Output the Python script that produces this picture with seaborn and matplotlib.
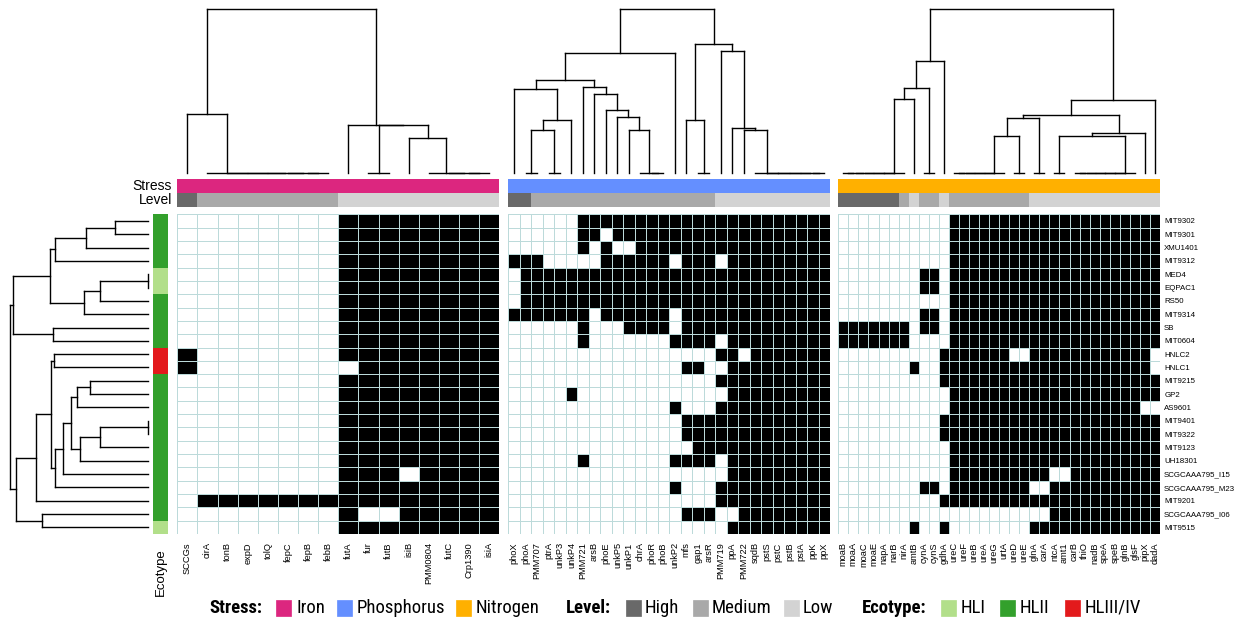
import numpy as np
import matplotlib
matplotlib.use("Agg")
import matplotlib.pyplot as plt
from matplotlib.colors import ListedColormap
from matplotlib.patches import Rectangle
import seaborn as sns

sns.set_theme(style="white")
plt.rcParams["font.family"] = ["Liberation Sans", "DejaVu Sans"]
for key in ("text.color", "axes.labelcolor", "xtick.color", "ytick.color"):
    plt.rcParams[key] = "black"

# ---------------------------------------------------------------- data
STRAINS = ["MIT9302", "MIT9301", "XMU1401", "MIT9312", "MED4", "EQPAC1", "RS50",
           "MIT9314", "SB", "MIT0604", "HNLC2", "HNLC1", "MIT9215", "GP2", "AS9601",
           "MIT9401", "MIT9322", "MIT9123", "UH18301", "SCGCAAA795_I15",
           "SCGCAAA795_M23", "MIT9201", "SCGCAAA795_I06", "MIT9515"]
ECOTYPE = ["HLII", "HLII", "HLII", "HLII", "HLI", "HLI", "HLII", "HLII", "HLII", "HLII",
           "HLIII/IV", "HLIII/IV", "HLII", "HLII", "HLII", "HLII", "HLII", "HLII", "HLII",
           "HLII", "HLII", "HLII", "HLII", "HLI"]

IRON_GENES = ["SCCGs", "cirA", "tonB", "expD", "tolQ", "fepC", "fepB", "febB", "futA",
              "fur", "futB", "isiB", "PMM0804", "futC", "Crp1390", "isiA"]
PHOS_GENES = ["phoX", "phoA", "PMM707", "ptrA", "unkP3", "unkP4", "PMM721", "arsB", "phoE",
              "unkP5", "unkP1", "chrA", "phoR", "phoB", "unkP2", "mfs", "gap1", "arsR",
              "PMM719", "ppA", "PMM722", "sqdB", "pstS", "pstC", "pstB", "pstA", "ppK", "ppX"]
NITRO_GENES = ["moaB", "moaA", "moaC", "moaE", "napA", "narB", "nirA", "amtB", "cynA", "cynS",
               "gdhA", "ureC", "ureF", "ureB", "ureA", "ureG", "urtA", "ureD", "ureE", "glnA",
               "carA", "ntcA", "amt1", "carB", "thiO", "nadB", "speA", "speB", "glnB", "glsF",
               "pipX", "dadA"]

# stress level per gene: H = high, M = medium, L = low
IRON_LEVEL = "HMMMMMMMLLLLLLLL"
PHOS_LEVEL = "HHMMMMMMMMMMMMMMMMLLLLLLLLLL"
NITRO_LEVEL = "HHHHHHMLMMLMMMMMMMMLLLLLLLLLLLLL"

# gene presence (1) / absence (0), one string per strain, genes in groups of four
IRON_PA = [
    "0000 0000 1111 1111", "0000 0000 1111 1111", "0000 0000 1111 1111",
    "0000 0000 1111 1111", "0000 0000 1111 1111", "0000 0000 1111 1111",
    "0000 0000 1111 1111", "0000 0000 1111 1111", "0000 0000 1111 1111",
    "0000 0000 1111 1111", "1000 0000 1111 1111", "1000 0000 0111 1111",
    "0000 0000 1111 1111", "0000 0000 1111 1111", "0000 0000 1111 1111",
    "0000 0000 1111 1111", "0000 0000 1111 1111", "0000 0000 1111 1111",
    "0000 0000 1111 1111", "0000 0000 1110 1111", "0000 0000 1111 1111",
    "0111 1111 1111 1111", "0000 0000 1001 1111", "0000 0000 1111 1111",
]
PHOS_PA = [
    "0000 0011 1111 1111 1111 1111 1111",
    "0000 0011 0111 1111 1111 1111 1111",
    "0000 0010 1001 1111 1111 1111 1111",
    "1110 0000 1111 1101 1101 1111 1111",
    "0111 1111 1111 1111 1111 1111 1111",
    "0111 1111 1111 1111 1111 1111 1111",
    "0111 1111 1111 1111 1111 1111 1111",
    "1111 1110 1111 1101 1111 1111 1111",
    "0000 0010 0011 1101 1111 1111 1111",
    "0000 0010 0000 0011 1101 1111 1111",
    "0000 0000 0000 0000 0011 0111 1111",
    "0000 0000 0000 0001 1001 1111 1111",
    "0000 0000 0000 0000 0011 1111 1111",
    "0000 0100 0000 0000 0001 1111 1111",
    "0000 0000 0000 0010 0011 1111 1111",
    "0000 0000 0000 0001 1111 1111 1111",
    "0000 0000 0000 0001 1111 1111 1111",
    "0000 0000 0000 0000 1111 1111 1111",
    "0000 0010 0000 0011 1101 1111 1111",
    "0000 0000 0000 0000 0001 1111 1111",
    "0000 0000 0000 0010 0011 1111 1111",
    "0000 0000 0000 0000 0011 1111 1111",
    "0000 0000 0000 0001 1100 1111 1111",
    "0000 0000 0000 0000 0001 1111 1111",
]
NITRO_PA = [
    "0000 0000 0001 1111 1111 1111 1111 1111",
    "0000 0000 0001 1111 1111 1111 1111 1111",
    "0000 0000 0001 1111 1111 1111 1111 1111",
    "0000 0000 0001 1111 1111 1111 1111 1111",
    "0000 0000 1101 1111 1111 1111 1111 1111",
    "0000 0000 1101 1111 1111 1111 1111 1111",
    "0000 0000 0001 1111 1111 1111 1111 1111",
    "0000 0000 1101 1111 1111 1111 1111 1111",
    "1111 1110 1101 1111 1111 1111 1111 1111",
    "1111 1110 0001 1111 1111 1111 1111 1111",
    "0000 0000 0011 1111 1001 1111 1111 1110",
    "0000 0001 0011 1111 1111 1111 1111 1110",
    "0000 0000 0011 1111 1111 1111 1111 1111",
    "0000 0000 0001 1111 1111 1111 1111 1111",
    "0000 0000 0001 1111 1111 1111 1111 1100",
    "0000 0000 0011 1111 1111 1111 1111 1111",
    "0000 0000 0011 1111 1111 1111 1111 1111",
    "0000 0000 0001 1111 1111 1111 1111 1111",
    "0000 0000 0001 1111 1111 1111 1111 1111",
    "0000 0000 0001 1111 1111 1001 1111 1111",
    "0000 0000 1101 1111 1110 0111 1111 1111",
    "0000 0000 0011 1111 1111 1111 1111 1111",
    "0000 0000 0000 0000 0000 0111 1111 1111",
    "0000 0001 0010 0000 0001 1111 1111 1111",
]


# ------------------------------------------------------- dendrograms
# a node is (left, right, height); a leaf is its position in the display order
def tie(*leaves):
    """Leaves joined at height 0, merged left to right."""
    node = leaves[0]
    for leaf in leaves[1:]:
        node = (node, leaf, 0)
    return node


def tie_r(*leaves):
    """Leaves joined at height 0, merged right to left."""
    node = leaves[-1]
    for leaf in reversed(leaves[:-1]):
        node = (leaf, node, 0)
    return node


IRON_TREE = (
    (0, tie_r(1, 2, 3, 4, 5, 6, 7), 59),
    (8, ((9, 10, 0), (11, tie_r(12, 13, 14, 15), 35), 48), 48),
    163)

PHOS_TREE = (
    (((0, (((1, 2, 0), (3, 4, 0), 43), 5, 53), 83),
      (6, (7, (8, (9, (10, tie_r(11, 12, 13), 43), 56), 63), 79), 85), 92),
     14, 119),
    ((15, (16, 17, 0), 53),
     (18, (19, (20, tie_r(21, 22, 23, 24, 25, 26, 27), 43), 45), 121), 128),
    163)

NITRO_TREE = (
    (((tie(0, 1, 2, 3, 4, 5, 6), 7, 74), (8, 9, 0), 84), 10, 111),
    ((((tie(11, 12, 13, 14, 15, 16), (17, 18, 0), 37), (19, 20, 0), 55),
      (((21, 22, 0), tie(23, 24, 25, 26, 27, 28, 29), 37), 30, 40), 58),
     31, 73),
    163)

STRAIN_TREE = (
    (((((0, 1, 33), 2, 62), 3, 93), (((4, 5, 0), 6, 48), 7, 64), 98), (8, 9, 95), 135),
    ((((10, 11, 94),
       (((((12, 13, 58), 14, 71), (((15, 16, 0), 17, 48), 18, 68), 77), 19, 85), 20, 93), 97),
      21, 112),
     (22, 23, 106), 132),
    138)

# ------------------------------------------------------------ styles
STRESS_COLORS = {"Iron": "#DC267F", "Phosphorus": "#648FFF", "Nitrogen": "#FFB000"}
LEVEL_COLORS = {"High": "#696969", "Medium": "#A9A9A9", "Low": "#D3D3D3"}
ECO_COLORS = {"HLI": "#B2DF8A", "HLII": "#33A02C", "HLIII/IV": "#E31A1C"}
LEVEL_CODE = {"H": "High", "M": "Medium", "L": "Low"}
GRID_COLOR = "#BCDADA"

W, H = 1243, 623
fig = plt.figure(figsize=(W / 100, H / 100), dpi=100)
fig.patch.set_facecolor("white")


def add_ax(x0, y0, x1, y1):
    return fig.add_axes([x0 / W, 1 - y1 / H, (x1 - x0) / W, (y1 - y0) / H])


def to_matrix(rows):
    return np.array([[int(c) for c in r.replace(" ", "")] for r in rows])


def tree_segments(node):
    segs = []

    def walk(n):
        if isinstance(n, int):
            return n + 0.5, 0.0
        left, right, h = n
        lp, lh = walk(left)
        rp, rh = walk(right)
        segs.append(((lp, lp), (lh, h)))
        segs.append(((rp, rp), (rh, h)))
        segs.append(((lp, rp), (h, h)))
        return (lp + rp) / 2, h

    walk(node)
    return segs


def draw_col_tree(ax, tree, n):
    for xs, ys in tree_segments(tree):
        ax.plot(xs, ys, color="black", lw=1.0, clip_on=False, solid_capstyle="projecting")
    ax.set_xlim(0, n)
    ax.set_ylim(0, tree[2])
    ax.axis("off")


GRID_TOP, GRID_BOT = 214.3, 534.0
PANELS = [
    ("Iron", IRON_GENES, IRON_LEVEL, IRON_PA, IRON_TREE, 177.3, 499.3),
    ("Phosphorus", PHOS_GENES, PHOS_LEVEL, PHOS_PA, PHOS_TREE, 508.3, 830.0),
    ("Nitrogen", NITRO_GENES, NITRO_LEVEL, NITRO_PA, NITRO_TREE, 838.3, 1160.0),
]
level_names = list(LEVEL_COLORS)
level_cmap = ListedColormap([LEVEL_COLORS[k] for k in level_names])

for i, (stress, genes, levels, pa, tree, x0, x1) in enumerate(PANELS):
    n = len(genes)
    # gene dendrogram
    draw_col_tree(add_ax(x0, 9.3, x1, 172.7), tree, n)

    # stress and level annotation bars
    ax_s = add_ax(x0, 179.3, x1, 193.0)
    sns.heatmap(np.zeros((1, n)), ax=ax_s, cmap=ListedColormap([STRESS_COLORS[stress]]),
                vmin=0, vmax=1, cbar=False, xticklabels=False, yticklabels=False)
    ax_l = add_ax(x0, 193.3, x1, 206.7)
    codes = np.array([[level_names.index(LEVEL_CODE[c]) for c in levels]])
    sns.heatmap(codes, ax=ax_l, cmap=level_cmap, vmin=-0.5, vmax=2.5, cbar=False,
                xticklabels=False, yticklabels=False)

    # presence / absence heatmap
    ax_h = add_ax(x0, GRID_TOP, x1, GRID_BOT)
    last = i == len(PANELS) - 1
    sns.heatmap(to_matrix(pa), ax=ax_h, cmap=ListedColormap(["white", "black"]),
                vmin=0, vmax=1, cbar=False, linewidths=0.7, linecolor=GRID_COLOR,
                xticklabels=genes, yticklabels=STRAINS if last else False)
    ax_h.set_xticks(np.arange(n) + 0.5)
    ax_h.set_xticklabels(genes, rotation=90, fontsize=6.7)
    ax_h.tick_params(axis="x", length=0, pad=6)
    if last:
        ax_h.yaxis.tick_right()
        ax_h.set_yticklabels(STRAINS, rotation=0, fontsize=5.7)
        ax_h.tick_params(axis="y", length=0, pad=3, right=False, labelright=True)

# strain dendrogram
ax_t = add_ax(10, GRID_TOP, 148.3, GRID_BOT)
for xs, ys in tree_segments(STRAIN_TREE):
    ax_t.plot(ys, xs, color="black", lw=1.0, clip_on=False, solid_capstyle="projecting")
ax_t.set_xlim(STRAIN_TREE[2], 0)
ax_t.set_ylim(len(STRAINS), 0)
ax_t.axis("off")

# ecotype annotation bar
eco_names = list(ECO_COLORS)
ax_e = add_ax(153.3, GRID_TOP, 168.3, GRID_BOT)
sns.heatmap(np.array([[eco_names.index(e)] for e in ECOTYPE]), ax=ax_e,
            cmap=ListedColormap([ECO_COLORS[k] for k in eco_names]), vmin=-0.5, vmax=2.5,
            cbar=False, xticklabels=False, yticklabels=False)

fig.text(172 / W, 1 - 186 / H, "Stress", ha="right", va="center", fontsize=10)
fig.text(172 / W, 1 - 200 / H, "Level", ha="right", va="center", fontsize=10)
fig.text(161 / W, 1 - 548 / H, "Ecotype", ha="center", va="top", rotation=90, fontsize=9.5)

# legend row
LEG_FONT = ["Roboto Condensed", "Liberation Sans", "DejaVu Sans"]
LEG_Y = 608


def legend_text(x, s, bold=False):
    fig.text(x / W, 1 - LEG_Y / H, s, ha="left", va="center", fontsize=13.5,
             family=LEG_FONT, fontweight="bold" if bold else "normal")


def legend_box(x, color):
    fig.add_artist(Rectangle((x / W, 1 - (LEG_Y + 8) / H), 15 / W, 16 / H,
                             transform=fig.transFigure, facecolor=color,
                             edgecolor=color, lw=0.5))


legend_text(209, "Stress:", bold=True)
for x_box, name in zip([276, 337, 456], STRESS_COLORS):
    legend_box(x_box, STRESS_COLORS[name])
    legend_text(x_box + 20, name)
legend_text(566, "Level:", bold=True)
for x_box, name in zip([626, 693, 784], LEVEL_COLORS):
    legend_box(x_box, LEVEL_COLORS[name])
    legend_text(x_box + 19, name)
legend_text(862, "Ecotype:", bold=True)
for x_box, name in zip([941, 1000, 1065], ECO_COLORS):
    legend_box(x_box, ECO_COLORS[name])
    legend_text(x_box + 20, name)

fig.savefig("out.png", dpi=100, facecolor="white")
